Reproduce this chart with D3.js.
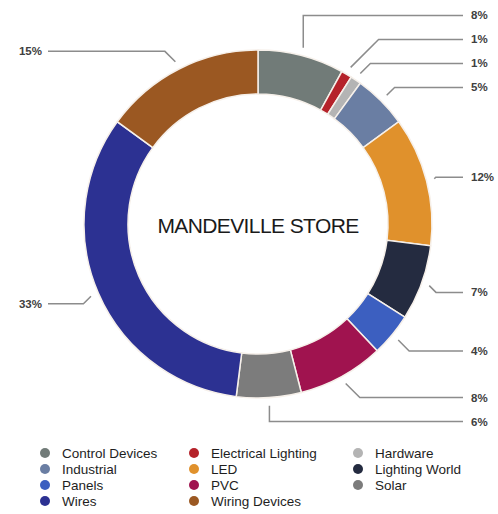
<!DOCTYPE html>
<html>
<head>
<meta charset="utf-8">
<script src="https://cdn.jsdelivr.net/npm/d3@7"></script>
<style>
  body { margin: 0; background: #fff; }
  text { font-family: "Liberation Sans", Arial, Helvetica, sans-serif; }
</style>
</head>
<body>
<script>
// Mandeville store donut

var width = 498;
var height = 514;

var categories = ["Control Devices", "Electrical Lighting", "Hardware", "Industrial", "LED",
                  "Lighting World", "Panels", "PVC", "Solar", "Wires", "Wiring Devices"];
var shares = [8, 1, 1, 5, 12, 7, 4, 8, 6, 33, 15];
var colors = ["#717b78", "#b5222a", "#b4b4b4", "#6a7ea3", "#e0912c",
              "#242b40", "#3c5fc0", "#a0134f", "#7c7c7c", "#2c3192", "#9b5822"];
var title = "MANDEVILLE STORE";

var cx = 258, cy = 224;
var outerR = 174, innerR = 130;
var lineR = 182, labelR = 196, minGap = 24;

var svg = d3.select("body")
  .append("svg")
  .attr("width", width)
  .attr("height", height);

var data = categories.map(function(c, i) {
  return { name: c, value: shares[i], color: colors[i] };
});

var pie = d3.pie().value(function(d) { return d.value; }).sort(null);
var arc = d3.arc().innerRadius(innerR).outerRadius(outerR);
var arcs = pie(data);

var g = svg.append("g").attr("transform", "translate(" + cx + "," + cy + ")");

g.selectAll("path")
  .data(arcs)
  .enter()
  .append("path")
  .attr("d", arc)
  .attr("fill", function(d) { return d.data.color; })
  .attr("stroke", "#f6f0ea")
  .attr("stroke-width", 1.5);

// label layout
var labels = arcs.map(function(d) {
  var a = (d.startAngle + d.endAngle) / 2;
  return {
    d: d,
    angle: a,
    right: Math.sin(a) >= 0,
    sx: lineR * Math.sin(a),
    sy: -lineR * Math.cos(a),
    ly: -labelR * Math.cos(a) + 2
  };
});

// push overlapping labels upward, from the bottom on each side
[true, false].forEach(function(side) {
  var list = labels.filter(function(l) { return l.right === side; })
                   .sort(function(a, b) { return b.ly - a.ly; });
  for (var i = 1; i < list.length; i++) {
    if (list[i - 1].ly - list[i].ly < minGap) list[i].ly = list[i - 1].ly - minGap;
  }
});

var rightX = 463 - cx, leftX = 48 - cx;

g.selectAll("polyline")
  .data(labels)
  .enter()
  .append("polyline")
  .attr("points", function(l) {
    var dy = Math.abs(l.ly - l.sy);
    var dx = Math.abs(Math.sin(l.angle)) < 0.3 ? 0 : dy;
    var ex = l.sx + (l.right ? dx : -dx);
    var endX = l.right ? rightX : leftX;
    return [l.sx, l.sy, ex, l.ly, endX, l.ly].join(",");
  })
  .attr("fill", "none")
  .attr("stroke", "#8c8c8c")
  .attr("stroke-width", 1.5);

g.selectAll("text.pct")
  .data(labels)
  .enter()
  .append("text")
  .attr("class", "pct")
  .attr("x", function(l) { return l.right ? rightX + 8 : leftX - 6; })
  .attr("y", function(l) { return l.ly; })
  .attr("dy", "0.35em")
  .attr("text-anchor", function(l) { return l.right ? "start" : "end"; })
  .attr("font-size", "11.5px")
  .attr("font-weight", "bold")
  .attr("fill", "#404040")
  .text(function(l) { return l.d.data.value + "%"; });

g.append("text")
  .attr("x", 0)
  .attr("y", 2)
  .attr("dy", "0.35em")
  .attr("text-anchor", "middle")
  .attr("font-size", "21px")
  .attr("letter-spacing", "-0.6px")
  .attr("fill", "#1a1a1a")
  .text(title);

// legend, three columns, row-major
var colX = [45, 194, 358];
var rowY = 453, rowH = 16;

var legend = svg.selectAll("g.legend")
  .data(data)
  .enter()
  .append("g")
  .attr("class", "legend")
  .attr("transform", function(d, i) {
    return "translate(" + colX[i % 3] + "," + (rowY + Math.floor(i / 3) * rowH) + ")";
  });

legend.append("circle")
  .attr("r", 5)
  .attr("fill", function(d) { return d.color; });

legend.append("text")
  .attr("x", 17)
  .attr("dy", "0.35em")
  .attr("font-size", "13.5px")
  .attr("fill", "#1e1e1e")
  .text(function(d) { return d.name; });
</script>
</body>
</html>
